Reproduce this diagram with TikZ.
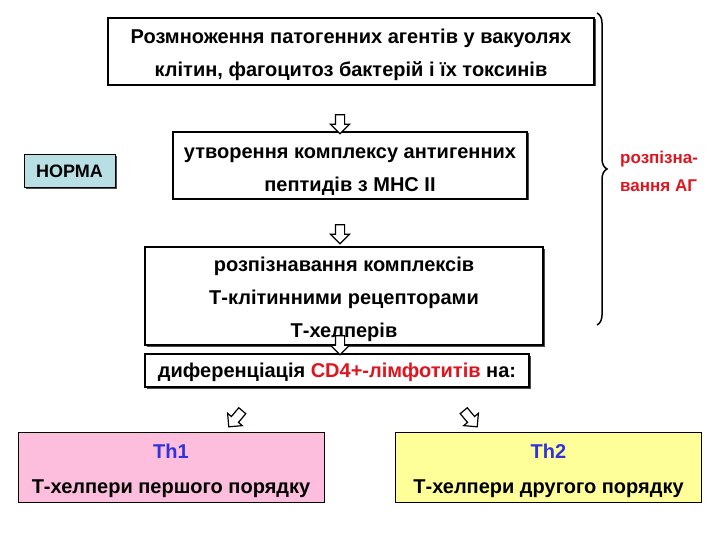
\documentclass[tikz,border=0pt]{standalone}
\usepackage{fontspec}
\setmainfont{Liberation Sans}
\usetikzlibrary{shapes.arrows,decorations.pathreplacing,shadows}

\definecolor{normfill}{RGB}{184,224,228}
\definecolor{thonefill}{RGB}{252,190,220}
\definecolor{thtwofill}{RGB}{255,255,153}
\definecolor{agred}{RGB}{224,20,30}
\definecolor{thblue}{RGB}{50,50,220}

% strut that pushes the first line a little lower
\newcommand{\topgap}{\rule{0pt}{22pt}}

\tikzset{
  stagebox/.style={draw, line width=1.2pt, fill=white, align=center, inner sep=0pt,
    font=\fontsize{20}{33}\selectfont\bfseries,
    drop shadow={shadow xshift=1.5pt, shadow yshift=-1.5pt, fill=black!70, opacity=1}},
  thbox/.style={draw, line width=1pt, align=center, inner sep=0pt,
    minimum width=306pt, minimum height=70pt,
    font=\fontsize{20}{35}\selectfont\bfseries},
  hollowarrow/.style={draw, line width=1.2pt, fill=white, single arrow,
    minimum height=19pt, single arrow head extend=5pt,
    inner xsep=0pt, inner ysep=4pt}
}

\begin{document}
\begin{tikzpicture}[x=1pt,y=-1pt]
\useasboundingbox (0,0) rectangle (720,540);

% Main chain
\node[stagebox, minimum width=486pt, minimum height=67pt] (spread) at (351,51.5)
  {\topgap Розмноження патогенних агентів у вакуолях\\клітин, фагоцитоз бактерій і їх токсинів};
\node[stagebox, minimum width=354pt, minimum height=67pt] (complex) at (350,165.5)
  {\topgap утворення комплексу антигенних\\пептидів з MHC II};
\node[stagebox, minimum width=398pt, minimum height=98pt] (recog) at (344,296)
  {\topgap розпізнавання комплексів\\Т-клітинними рецепторами\\Т-хелперів};
\node[stagebox, minimum width=384pt, minimum height=33pt] (diff) at (337,370.5)
  {\rule{0pt}{19pt}диференціація {\color{agred}CD4+-лімфотитів} на:};

% Arrows between stages
\node[hollowarrow, rotate=-90] (arrA) at (340,122) {};
\node[hollowarrow, rotate=-90] (arrB) at (340,232) {};
\node[hollowarrow, rotate=-90] (arrC) at (340,343) {};

% Norm label
\node[draw, line width=1pt, fill=normfill, inner sep=0pt,
  minimum width=91pt, minimum height=33pt,
  font=\fontsize{18}{20}\selectfont\bfseries,
  drop shadow={shadow xshift=1.5pt, shadow yshift=-1.5pt, fill=black!70, opacity=1}]
  (norm) at (69.5,171.5) {НОРМА};

% Brace on the right
\draw[line width=1.5pt, decorate, decoration={brace, amplitude=10pt}]
  (597,13) -- (597,325) coordinate[midway] (bracemid);
\node[align=left, text=agred, anchor=west, inner sep=0pt,
  font=\fontsize{17}{28}\selectfont\bfseries] (aglabel) at (620,171)
  {розпізна-\\вання АГ};

% Split arrows
\node[hollowarrow, rotate=-130, minimum height=21pt] (arrL) at (237,417) {};
\node[hollowarrow, rotate=-50, minimum height=21pt] (arrR) at (469,417) {};

% Helper types
\node[thbox, fill=thonefill] (thone) at (171,467)
  {\topgap{\color{thblue}Th1}\\Т-хелпери першого порядку};
\node[thbox, fill=thtwofill] (thtwo) at (548.5,467)
  {\topgap{\color{thblue}Th2}\\Т-хелпери другого порядку};

\end{tikzpicture}
\end{document}
